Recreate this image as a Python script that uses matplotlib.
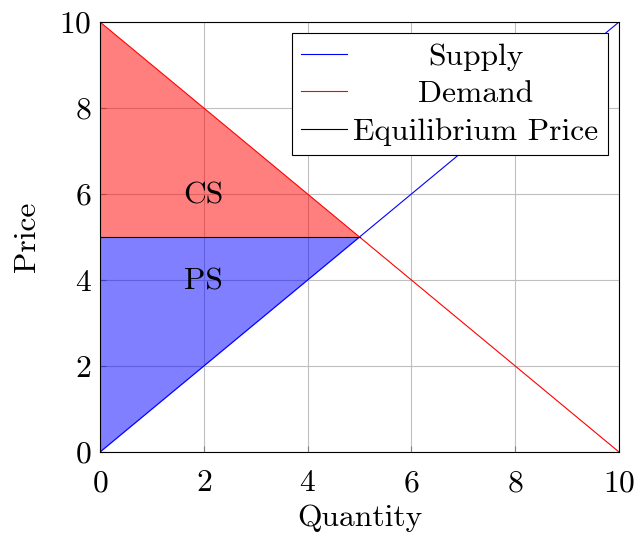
import matplotlib
matplotlib.use('Agg')
import matplotlib.pyplot as plt

plt.rcParams['font.family'] = 'cmr10'
plt.rcParams['axes.formatter.use_mathtext'] = True
plt.rcParams['font.size'] = 22.7

quantity = [0, 10]
supply = [0, 10]
demand = [10, 0]
eq_q = [0, 5]
eq_p = [5, 5]
cs_q = [0, 5]
cs_top = [10, 5]
ps_q = [0, 5]
ps_bottom = [0, 5]
ticks = [0, 2, 4, 6, 8, 10]

fig = plt.figure(figsize=(6.39, 5.4), dpi=100)
ax = fig.add_axes([100/639, 88/540, 519/639, 430/540])

ax.fill_between(cs_q, eq_p, cs_top, color='red', alpha=0.5, lw=0)
ax.fill_between(ps_q, ps_bottom, eq_p, color='blue', alpha=0.5, lw=0)
ax.plot(quantity, supply, color='blue', lw=0.8, label='Supply')
ax.plot(quantity, demand, color='red', lw=0.8, label='Demand')
ax.plot(eq_q, eq_p, color='black', lw=0.8, label='Equilibrium Price')

ax.text(2, 5.95, 'CS', ha='center', va='center')
ax.text(2, 3.95, 'PS', ha='center', va='center')

ax.set_xlim(0, 10)
ax.set_ylim(0, 10)
ax.set_xticks(ticks)
ax.set_yticks(ticks)
ax.grid(True, color='#bfbfbf', lw=0.8)
ax.set_axisbelow(True)
ax.tick_params(direction='in', length=4, width=0.8, color='#808080')
ax.tick_params(axis='x', pad=13)
ax.tick_params(axis='y', pad=6)
for s in ax.spines.values():
    s.set_linewidth(0.8)
ax.set_xlabel('Quantity', labelpad=5)
ax.set_ylabel('Price', labelpad=13)

leg = ax.legend(loc='upper right', fancybox=False, framealpha=1, edgecolor='black',
                borderpad=0.3, labelspacing=0.3, handlelength=1.45, handletextpad=0.2,
                borderaxespad=0.35)
leg.get_frame().set_linewidth(0.8)

# centre the legend labels like pgfplots does
fig.canvas.draw()
renderer = fig.canvas.get_renderer()
widths = [t.get_window_extent(renderer).width for t in leg.get_texts()]
widest = max(widths)
for t, w in zip(leg.get_texts(), widths):
    t.set_position(((widest - w) / 2, 0))

fig.savefig('out.png', dpi=100)
